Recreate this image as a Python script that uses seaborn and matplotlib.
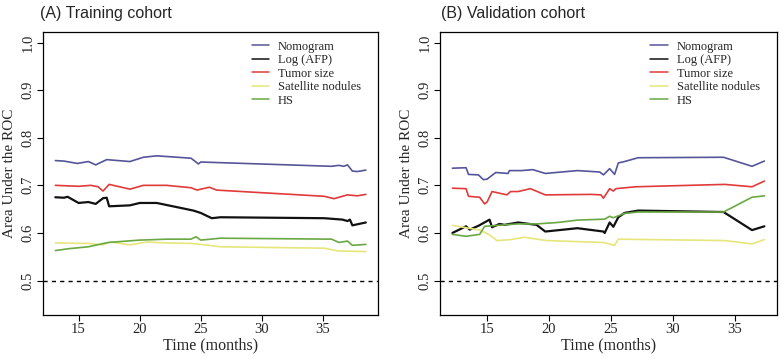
import numpy as np
import pandas as pd
import seaborn as sns
import matplotlib
matplotlib.use("Agg")
import matplotlib.pyplot as plt
from matplotlib.lines import Line2D

# ---- data ----
series_names = ["Nomogram", "Log (AFP)", "Tumor size", "Satellite nodules", "HS"]
colors = ["#55559a", "#111111", "#e03a3a", "#e6e67a", "#6aa844"]

# (A) training cohort
tr_nomo_t = [13.1, 13.8, 14.9, 15.8, 16.4, 17.3, 19.2, 20.3, 21.4, 24.2, 24.8, 25.0, 35.7, 36.3, 36.7, 37.0, 37.4, 37.8, 38.5]
tr_nomo_v = [0.752, 0.751, 0.746, 0.750, 0.743, 0.754, 0.750, 0.759, 0.762, 0.757, 0.745, 0.749, 0.740, 0.742, 0.740, 0.743, 0.730, 0.729, 0.732]
tr_afp_t = [13.1, 13.8, 14.1, 15.0, 15.8, 16.4, 17.0, 17.3, 17.5, 19.2, 20.0, 21.4, 24.4, 25.0, 25.4, 25.9, 26.6, 35.1, 36.6, 37.0, 37.2, 37.4, 38.5]
tr_afp_v = [0.675, 0.674, 0.676, 0.663, 0.665, 0.661, 0.673, 0.674, 0.656, 0.658, 0.663, 0.663, 0.647, 0.642, 0.637, 0.631, 0.633, 0.631, 0.628, 0.625, 0.628, 0.616, 0.622]
tr_size_t = [13.1, 15.0, 16.0, 16.6, 17.0, 17.5, 19.2, 20.3, 22.2, 24.2, 24.7, 25.0, 25.7, 26.3, 35.1, 35.9, 37.0, 37.8, 38.5]
tr_size_v = [0.700, 0.698, 0.700, 0.697, 0.688, 0.702, 0.692, 0.700, 0.700, 0.695, 0.690, 0.692, 0.696, 0.690, 0.677, 0.672, 0.680, 0.678, 0.681]
tr_sat_t = [13.1, 15.8, 17.0, 17.6, 19.2, 20.6, 22.2, 24.2, 25.0, 26.6, 35.1, 36.3, 38.5]
tr_sat_v = [0.579, 0.578, 0.575, 0.581, 0.575, 0.581, 0.579, 0.578, 0.576, 0.571, 0.568, 0.562, 0.561]
tr_hs_t = [13.1, 14.2, 15.8, 17.4, 20.0, 22.2, 24.2, 24.6, 25.0, 26.6, 35.7, 36.3, 37.0, 37.4, 38.5]
tr_hs_v = [0.563, 0.567, 0.571, 0.580, 0.585, 0.587, 0.587, 0.592, 0.585, 0.589, 0.587, 0.580, 0.583, 0.574, 0.576]

# (B) validation cohort
va_nomo_t = [12.2, 13.3, 13.5, 14.3, 14.7, 15.0, 15.7, 16.7, 16.8, 17.8, 18.7, 19.7, 22.3, 24.1, 24.4, 24.9, 25.3, 25.6, 26.1, 27.2, 34.1, 36.4, 37.4]
va_nomo_v = [0.736, 0.737, 0.723, 0.722, 0.712, 0.713, 0.727, 0.725, 0.731, 0.731, 0.733, 0.725, 0.731, 0.728, 0.722, 0.735, 0.723, 0.747, 0.750, 0.758, 0.759, 0.740, 0.751]
va_afp_t = [12.2, 13.3, 13.6, 14.3, 15.2, 15.4, 16.0, 16.4, 17.5, 19.0, 19.7, 22.3, 24.4, 24.5, 24.9, 25.2, 25.6, 26.1, 27.2, 34.1, 36.4, 37.4]
va_afp_v = [0.600, 0.614, 0.607, 0.615, 0.628, 0.612, 0.619, 0.617, 0.622, 0.617, 0.603, 0.610, 0.603, 0.600, 0.622, 0.613, 0.633, 0.642, 0.647, 0.644, 0.606, 0.614]
va_size_t = [12.2, 13.3, 13.5, 14.4, 14.8, 15.0, 15.4, 16.6, 16.9, 17.5, 18.5, 19.7, 23.4, 24.2, 24.4, 24.9, 25.2, 25.4, 27.0, 34.2, 36.4, 37.4]
va_size_v = [0.694, 0.693, 0.677, 0.675, 0.661, 0.665, 0.687, 0.680, 0.687, 0.687, 0.693, 0.680, 0.681, 0.680, 0.673, 0.693, 0.688, 0.693, 0.697, 0.702, 0.697, 0.709]
va_sat_t = [12.2, 14.4, 15.2, 15.8, 16.9, 18.0, 19.8, 24.4, 25.3, 25.6, 34.2, 36.4, 37.4]
va_sat_v = [0.616, 0.606, 0.596, 0.584, 0.586, 0.591, 0.584, 0.580, 0.574, 0.587, 0.584, 0.577, 0.586]
va_hs_t = [12.2, 13.3, 14.4, 14.8, 16.4, 17.5, 19.0, 20.7, 22.3, 24.5, 24.9, 25.2, 26.1, 27.2, 34.1, 36.4, 37.4]
va_hs_v = [0.597, 0.593, 0.597, 0.614, 0.617, 0.619, 0.619, 0.622, 0.627, 0.629, 0.635, 0.632, 0.641, 0.644, 0.644, 0.675, 0.678]

y_ticks = [0.5, 0.6, 0.7, 0.8, 0.9, 1.0]
x_ticks = [15, 20, 25, 30, 35]


def long_frame(pairs):
    parts = []
    for name, (t, v) in zip(series_names, pairs):
        parts.append(pd.DataFrame({"time": t, "auc": v, "model": name}))
    return pd.concat(parts, ignore_index=True)


train = long_frame([(tr_nomo_t, tr_nomo_v), (tr_afp_t, tr_afp_v), (tr_size_t, tr_size_v),
                    (tr_sat_t, tr_sat_v), (tr_hs_t, tr_hs_v)])
valid = long_frame([(va_nomo_t, va_nomo_v), (va_afp_t, va_afp_v), (va_size_t, va_size_v),
                    (va_sat_t, va_sat_v), (va_hs_t, va_hs_v)])

sns.set_style("ticks")
plt.rcParams["font.family"] = ["Liberation Serif", "DejaVu Serif"]

palette = dict(zip(series_names, colors))
widths = {"Nomogram": 1.2, "Log (AFP)": 1.6, "Tumor size": 1.2, "Satellite nodules": 1.2, "HS": 1.2}

fig = plt.figure(figsize=(7.8, 3.64), dpi=100)
ax1 = fig.add_axes([0.055, 0.135, 0.430, 0.777])
ax2 = fig.add_axes([0.564, 0.135, 0.432, 0.777])

panels = [(ax1, train, (12.08, 39.52), "(A) Training cohort", 0.051),
          (ax2, valid, (11.19, 38.41), "(B) Validation cohort", 0.565)]

for ax, df, xlim, title, tx in panels:
    for name in series_names:
        sub = df[df["model"] == name]
        sns.lineplot(data=sub, x="time", y="auc", color=palette[name], lw=widths[name],
                     sort=False, estimator=None, ax=ax, legend=False)
    ax.axhline(0.5, color="black", ls=(0, (3, 3)), lw=1.0)
    ax.set_xlim(*xlim)
    ax.set_ylim(0.428, 1.022)
    ax.set_xticks(x_ticks)
    ax.set_yticks(y_ticks)
    ax.set_yticklabels([f"{v:.1f}" for v in y_ticks], rotation=90, va="center")
    ax.tick_params(labelsize=10.5, length=4, width=0.8, color="black", pad=2)
    for s in ax.spines.values():
        s.set_linewidth(0.9)
        s.set_color("black")
    ax.set_xlabel("Time (months)", fontsize=11.5, labelpad=1)
    ax.set_ylabel("Area Under the ROC", fontsize=11, labelpad=4)
    handles = [Line2D([0], [0], color=palette[n], lw=1.1) for n in series_names]
    ax.legend(handles, series_names, loc="upper right", frameon=False, fontsize=9,
              handlelength=1.4, handletextpad=0.7, labelspacing=0.12,
              bbox_to_anchor=(0.975, 1.0), borderaxespad=0.3)
    fig.text(tx, 0.962, title, fontsize=11.5, family="Liberation Sans", va="center", ha="left")

fig.savefig("out.png", dpi=100)
